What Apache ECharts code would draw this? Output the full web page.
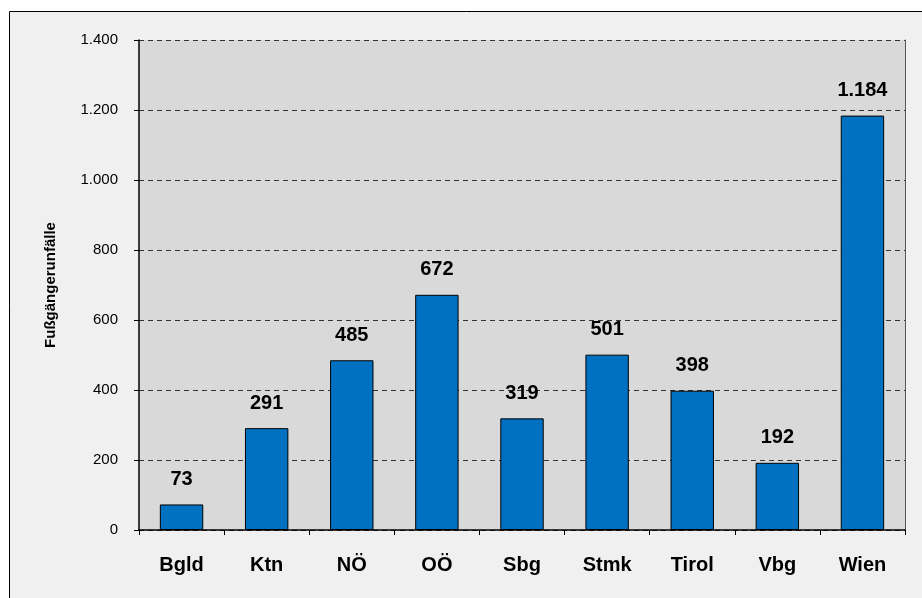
<!DOCTYPE html>
<html><head><meta charset="utf-8">
<script src="https://cdn.jsdelivr.net/npm/echarts@6/dist/echarts.min.js"></script>
<style>html,body{margin:0;padding:0;background:#fff}#c{width:922px;height:598px}</style>
</head><body><div id="c"></div>
<script>
const categories = ['Bgld','Ktn','NÖ','OÖ','Sbg','Stmk','Tirol','Vbg','Wien'];
const values = [73,291,485,672,319,501,398,192,1184];
const yAxisName = 'Fußgängerunfälle';
const fmt = v => String(v).replace(/\B(?=(\d{3})+(?!\d))/g, '.');
const FONT = 'Liberation Sans, Arial, sans-serif';
const chart = echarts.init(document.getElementById('c'), null, {renderer:'canvas'});
chart.setOption({
  backgroundColor: '#fff',
  animation: false,
  graphic: [{
    type:'rect', z:-10, silent:true,
    shape:{x:9.5,y:11.5,width:940,height:620},
    style:{fill:'#f0f0f0',stroke:'#000',lineWidth:1}
  }],
  grid: {left:139, right:17, top:40, bottom:68, show:true, backgroundColor:'#d9d9d9', borderWidth:0},
  xAxis: {
    type:'category', data:categories,
    axisLine:{show:true, lineStyle:{color:'#000', width:1.5}},
    axisTick:{show:true, length:5, lineStyle:{color:'#000'}},
    axisLabel:{color:'#000', fontFamily:FONT, fontWeight:'bold', fontSize:20, margin:25}
  },
  yAxis: [{
    type:'value', min:0, max:1400, interval:200,
    name: yAxisName, nameLocation:'middle', nameGap:81, nameRotate:90,
    nameTextStyle:{color:'#000', fontFamily:FONT, fontWeight:'bold', fontSize:15},
    axisLine:{show:true, lineStyle:{color:'#000', width:1.5}},
    axisTick:{show:true, length:5, lineStyle:{color:'#000'}},
    axisLabel:{color:'#000', fontFamily:FONT, fontSize:15, margin:21, formatter: v => fmt(v)},
    splitLine:{show:true, lineStyle:{color:'#333', type:[5,4], width:1}}
  },{
    type:'value', min:0, max:1400, interval:200, position:'right',
    axisLine:{show:true, lineStyle:{color:'#555', width:1}},
    axisTick:{show:false}, axisLabel:{show:false}, splitLine:{show:false}
  }],
  series: [{
    type:'bar', data:values, barWidth:'51%',
    itemStyle:{color:'#0070c0', borderColor:'#000', borderWidth:1},
    label:{show:true, position:'top', distance:15, color:'#000', fontFamily:FONT, fontWeight:'bold', fontSize:20,
      formatter: p => fmt(p.value)}
  }]
});
</script></body></html>
